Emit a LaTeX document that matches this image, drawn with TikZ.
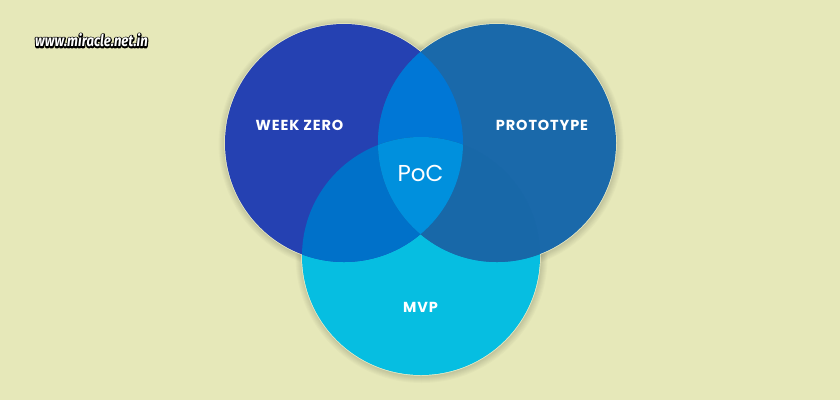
\documentclass[tikz,border=0pt]{standalone}
\usepackage{fontspec}
\setmainfont{Poppins}
\newfontfamily\vennfont[LetterSpace=6]{Poppins}
\newfontfamily\webfont{Fira Sans}
\usetikzlibrary{positioning,calc}

\definecolor{bgyellow}{HTML}{E6E8B9}
\definecolor{rimyellow}{HTML}{EEEFC8}
\definecolor{weekblue}{HTML}{2541B2}
\definecolor{protoblue}{HTML}{1A69AA}
\definecolor{mvpcyan}{HTML}{06BEE1}
\definecolor{wpblue}{HTML}{0077D6}
\definecolor{wmblue}{HTML}{0071C9}
\definecolor{pmblue}{HTML}{1868A8}
\definecolor{pocblue}{HTML}{0090DD}

\tikzset{
  vennlabel/.style={text=white,font=\vennfont\bfseries\fontsize{14.5}{14.5}\selectfont},
  webtext/.style={xscale=0.82,text=white,font=\webfont\bfseries\itshape\fontsize{16}{16}\selectfont},
}
% outlined text: a black stroked copy under the white one
\newcommand{\outlined}[1]{\rlap{\special{pdf:literal direct 1 Tr 2.8 w 1 j 1 J 0 0 0 RG}#1\special{pdf:literal direct 0 Tr}}#1}

\begin{document}
\begin{tikzpicture}[x=1pt,y=-1pt,every node/.style={inner sep=0,outer sep=0}]

    \fill[bgyellow] (0,0) rectangle (840,400);
    \useasboundingbox (0,0) rectangle (840,400);

    \coordinate (wz)  at (344,143);
    \coordinate (pt)  at (497,143);
    \coordinate (mvp) at (421,256);
    \def\rad{119pt}

    % soft shadows
    \foreach \r in {126,125,...,120}
        \foreach \c in {wz,pt,mvp}
            \fill[black,opacity=0.018] ($(\c)+(0.6,1)$) circle[radius=\r pt];

    \foreach \c in {wz,pt,mvp}
        \fill[rimyellow] (\c) circle[radius=119.7pt];

    \fill[mvpcyan]   (mvp) circle[radius=\rad];
    \fill[weekblue]  (wz)  circle[radius=\rad];
    \fill[protoblue] (pt)  circle[radius=\rad];

    \begin{scope}
        \clip (wz) circle[radius=\rad];
        \fill[wpblue] (pt) circle[radius=\rad];
        \fill[wmblue] (mvp) circle[radius=\rad];
    \end{scope}
    \begin{scope}
        \clip (pt) circle[radius=\rad];
        \fill[pmblue] (mvp) circle[radius=\rad];
    \end{scope}
    \begin{scope}
        \clip (wz) circle[radius=\rad];
        \clip (pt) circle[radius=\rad];
        \fill[pocblue] (mvp) circle[radius=\rad];
    \end{scope}

    \node[vennlabel] (weekzero)  at (299.5,125.5) {WEEK ZERO};
    \node[vennlabel] (prototype) at (542,125.5) {PROTOTYPE};
    \node[vennlabel] (mvplabel)  at (420.5,307) {MVP};
    \node[text=white,font=\fontsize{23}{23}\selectfont] (poc) at (420.5,173.5) {PoC};

    \node[webtext] (watermark) at (91.5,40.5) {\outlined{www.miracle.net.in}};

\end{tikzpicture}
\end{document}
